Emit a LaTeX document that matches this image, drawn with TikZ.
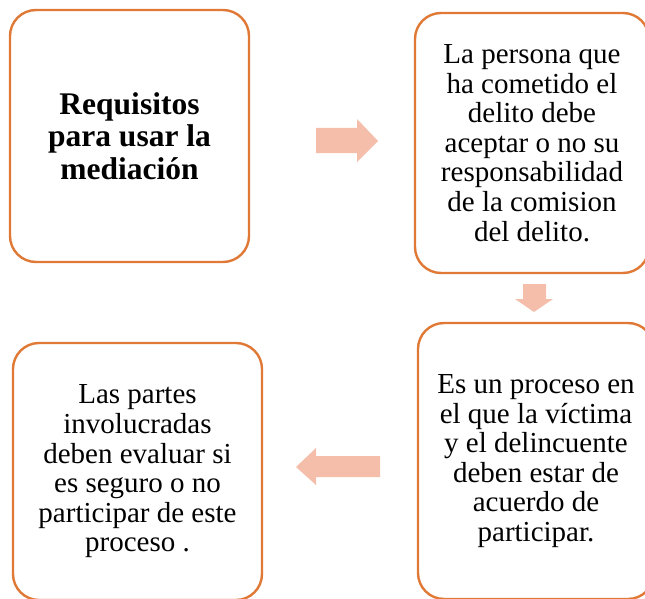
\documentclass[tikz,border=0pt]{standalone}
\usepackage{fontspec}
\setmainfont{Liberation Serif}
\definecolor{boxline}{RGB}{224,120,54}
\definecolor{arrowfill}{RGB}{244,190,170}
\tikzset{
  stepbox/.style={draw=boxline, line width=2.4pt, rounded corners=26pt, align=center,
    font=\fontsize{29}{29.6}\selectfont, inner sep=0pt},
  headbox/.style={stepbox, font=\fontsize{31.5}{32.5}\selectfont\bfseries}
}
\begin{document}
\begin{tikzpicture}[x=1pt,y=-1pt]

% Frame of the picture
\useasboundingbox (0,0) rectangle (645,599);
\clip (0,0) rectangle (645,599);

% The four boxes of the steps
\node [headbox, minimum width=239pt, minimum height=252pt] (req) at (129.5,136) {Requisitos\\para usar la\\mediación};
\node [stepbox, minimum width=234pt, minimum height=260pt] (acc) at (532,143) {La persona que\\ha cometido el\\delito debe\\aceptar o no su\\responsabilidad\\de la comision\\del delito.};
\node [stepbox, minimum width=236pt, minimum height=276pt] (proc) at (536,461) {Es un proceso en\\el que la víctima\\y el delincuente\\deben estar de\\acuerdo de\\participar.};
\node [stepbox, minimum width=249pt, minimum height=257pt] (eval) at (137.5,471.5) {Las partes\\involucradas\\deben evaluar si\\es seguro o no\\participar de este\\proceso .};

% Block arrows between the boxes
\fill [arrowfill] (316,128)--(357,128)--(357,119)--(378,141)--(357,162)--(357,153)--(316,153)--cycle;
\fill [arrowfill] (523,284)--(546,284)--(546,299)--(553,299)--(534,312)--(515,299)--(523,299)--cycle;
\fill [arrowfill] (380,456)--(316,456)--(316,448)--(296,467)--(316,485)--(316,477)--(380,477)--cycle;

\end{tikzpicture}
\end{document}
